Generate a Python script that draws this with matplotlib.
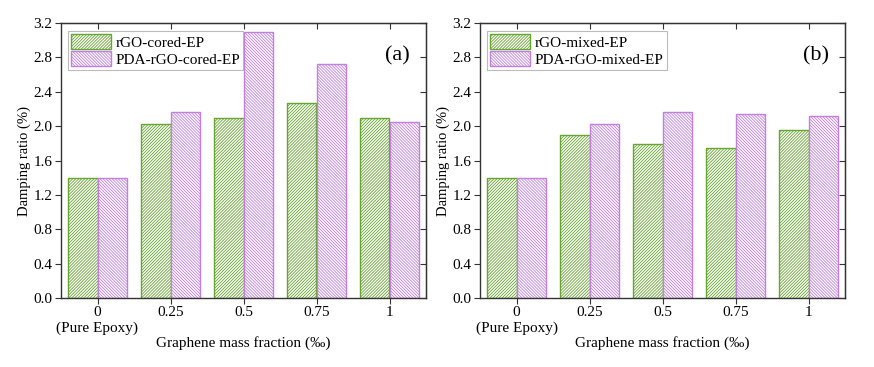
import numpy as np
import matplotlib
matplotlib.use("Agg")
import matplotlib.pyplot as plt

plt.rcParams['font.family'] = ['Liberation Serif', 'DejaVu Serif']
plt.rcParams['hatch.linewidth'] = 0.6

categories = ['0\n(Pure Epoxy)', '0.25', '0.5', '0.75', '1']

cored_rgo = [1.40, 2.02, 2.10, 2.27, 2.09]
cored_pda = [1.40, 2.16, 3.09, 2.72, 2.05]
mixed_rgo = [1.40, 1.90, 1.79, 1.74, 1.95]
mixed_pda = [1.40, 2.02, 2.17, 2.14, 2.12]

green = '#66a530'
purple = '#c27fe0'

fig = plt.figure(figsize=(8.74, 3.67), dpi=100)
ax1 = fig.add_axes([61 / 874, 1 - 298 / 367, 365 / 874, 275 / 367])
ax2 = fig.add_axes([480 / 874, 1 - 298 / 367, 365 / 874, 275 / 367])

panels = [
    (ax1, cored_rgo, cored_pda, 'rGO-cored-EP', 'PDA-rGO-cored-EP', '(a)'),
    (ax2, mixed_rgo, mixed_pda, 'rGO-mixed-EP', 'PDA-rGO-mixed-EP', '(b)'),
]

x = np.arange(len(categories))
w = 0.4
yt = np.arange(0, 3.21, 0.4)
for ax, s1, s2, l1, l2, tag in panels:
    ax.bar(x - w / 2, s1, w, facecolor='white', edgecolor=green, hatch='/' * 11,
           linewidth=1.0, label=l1)
    ax.bar(x + w / 2, s2, w, facecolor='white', edgecolor=purple, hatch='\\' * 11,
           linewidth=1.0, label=l2)
    ax.set_xlim(-0.5, 4.5)
    ax.set_ylim(0, 3.2)
    ax.set_yticks(yt)
    ax.set_yticklabels(['%.1f' % v for v in yt])
    ax.set_xticks(x)
    ax.set_xticklabels(categories)
    ax.tick_params(axis='both', labelsize=11, direction='out', length=4,
                   width=0.8, color='#333333', top=False, right=False, pad=2)
    sec_x = ax.secondary_xaxis('top')
    sec_x.set_xticks(x)
    sec_x.tick_params(direction='in', length=4, labeltop=False, color='#333333')
    sec_y = ax.secondary_yaxis('right')
    sec_y.set_yticks(yt)
    sec_y.tick_params(direction='in', length=4, labelright=False, color='#333333')
    for sp in ax.spines.values():
        sp.set_color('#333333')
        sp.set_linewidth(1.0)
    ax.set_xlabel('Graphene mass fraction (\u2030)', fontsize=11, labelpad=1)
    ax.set_ylabel('Damping ratio (%)', fontsize=10.5, labelpad=2)
    leg = ax.legend(loc='upper left', bbox_to_anchor=(0.02, 0.97), fontsize=11,
                    frameon=True, fancybox=False, edgecolor='#aaaaaa',
                    handlelength=2.6, handleheight=1.1, borderpad=0.2,
                    labelspacing=0.1, handletextpad=0.3, borderaxespad=0)
    leg.get_frame().set_linewidth(0.8)
    ax.text(0.955, 0.88, tag, transform=ax.transAxes, fontsize=16,
            ha='right', va='center')

fig.savefig('out.png', dpi=100)
